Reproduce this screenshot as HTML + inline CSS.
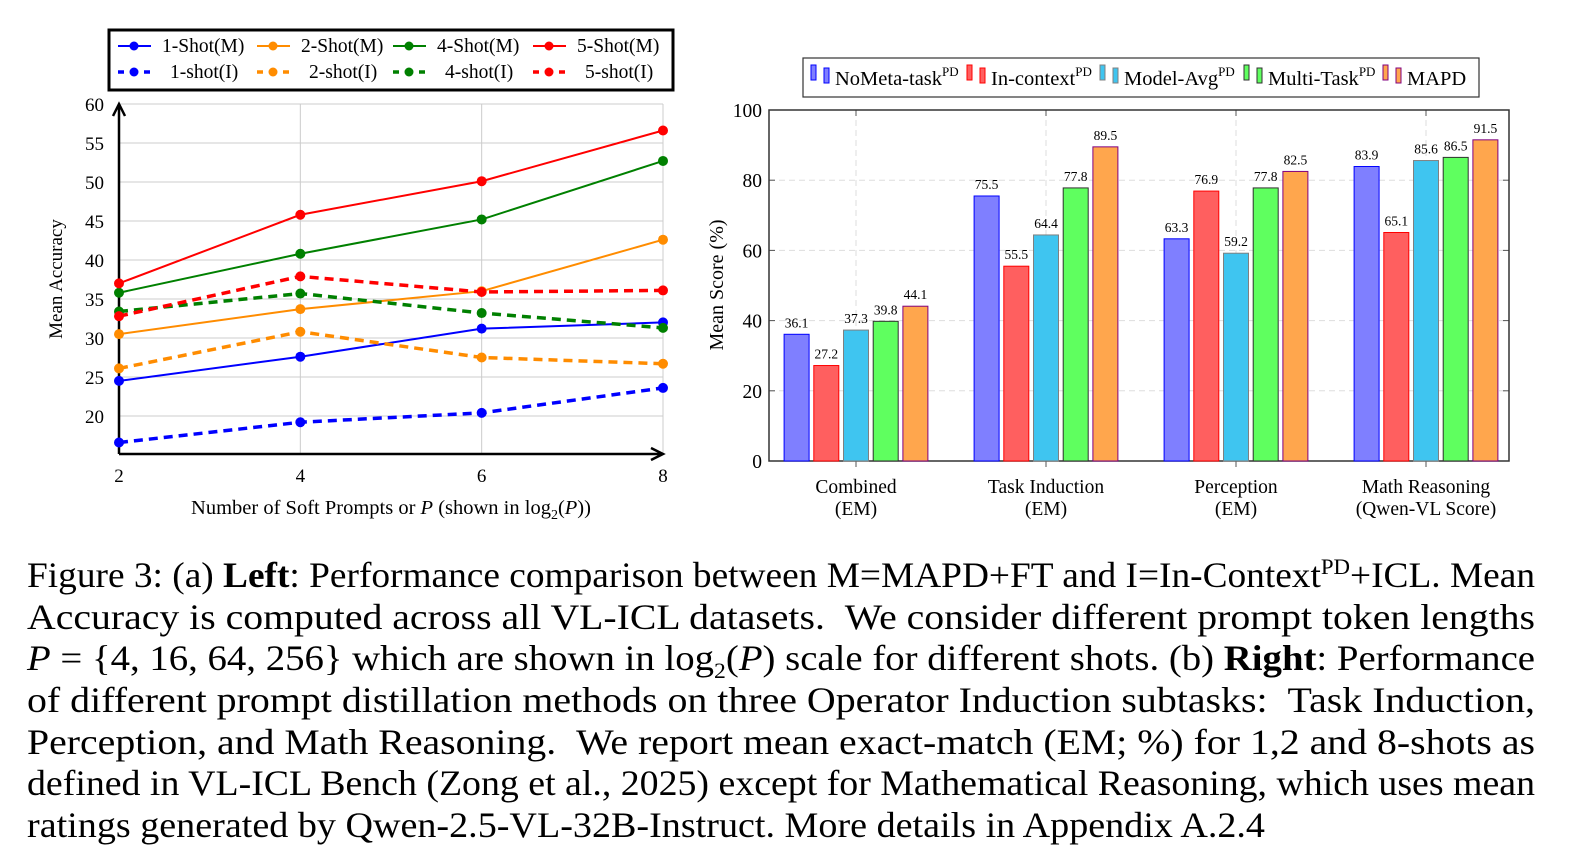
<!DOCTYPE html>
<html><head><meta charset="utf-8">
<style>
body{margin:0;width:1571px;height:861px;background:#fff;overflow:hidden;font-family:"Liberation Serif",serif;}
#cap{position:absolute;left:27px;top:555px;width:1508px;font-size:36px;line-height:41.7px;color:#000;}
#cap .ln{white-space:nowrap;display:block;height:41.7px;}
#cap .ln span.in{display:inline-block;transform-origin:0 0;}
sup{font-size:22px;line-height:0;}
sub{font-size:22px;line-height:0;}
</style></head><body>
<svg id="svg" width="1571" height="540" style="position:absolute;left:0;top:0" font-family="Liberation Serif, serif"></svg>
<div id="cap">
<div class="ln"><span class="in">Figure 3: (a) <b>Left</b>: Performance comparison between M=MAPD+FT and I=In-Context<sup>PD</sup>+ICL. Mean</span></div>
<div class="ln"><span class="in">Accuracy is computed across all VL-ICL datasets. &nbsp;We consider different prompt token lengths</span></div>
<div class="ln"><span class="in"><i>P</i> = {4, 16, 64, 256} which are shown in log<sub>2</sub>(<i>P</i>) scale for different shots. (b) <b>Right</b>: Performance</span></div>
<div class="ln"><span class="in">of different prompt distillation methods on three Operator Induction subtasks: &nbsp;Task Induction,</span></div>
<div class="ln"><span class="in">Perception, and Math Reasoning. &nbsp;We report mean exact-match (EM; %) for 1,2 and 8-shots as</span></div>
<div class="ln"><span class="in">defined in VL-ICL Bench (Zong et al., 2025) except for Mathematical Reasoning, which uses mean</span></div>
<div class="ln"><span class="in" data-w="1238">ratings generated by Qwen-2.5-VL-32B-Instruct. More details in Appendix A.2.4</span></div>
</div>
<script>
const xTicks=[2,4,6,8];
const yTicks=[20,25,30,35,40,45,50,55,60];
const lineNames=["1-Shot(M)","2-Shot(M)","4-Shot(M)","5-Shot(M)","1-shot(I)","2-shot(I)","4-shot(I)","5-shot(I)"];
const s1M=[24.5,27.6,31.2,32.0];
const s2M=[30.5,33.7,36.0,42.6];
const s4M=[35.8,40.8,45.2,52.7];
const s5M=[37.0,45.8,50.1,56.6];
const s1I=[16.6,19.2,20.4,23.6];
const s2I=[26.1,30.8,27.5,26.7];
const s4I=[33.4,35.7,33.2,31.3];
const s5I=[32.8,37.9,35.9,36.1];
const barCats=[["Combined","(EM)"],["Task Induction","(EM)"],["Perception","(EM)"],["Math Reasoning","(Qwen-VL Score)"]];
const barSeries=["NoMeta-task","In-context","Model-Avg","Multi-Task","MAPD"];
const bNoMeta=[36.1,75.5,63.3,83.9];
const bInctx=[27.2,55.5,76.9,65.1];
const bAvg=[37.3,64.4,59.2,85.6];
const bMulti=[39.8,77.8,77.8,86.5];
const bMapd=[44.1,89.5,82.5,91.5];
const bTicks=[0,20,40,60,80,100];

// caption line fitting
document.querySelectorAll('#cap .in').forEach(s=>{const w=s.getBoundingClientRect().width;const t=+(s.dataset.w||1508);s.style.transform='scaleX('+(t/w)+')';});

const svg=document.getElementById('svg');const NS='http://www.w3.org/2000/svg';
function el(t,a,p){const e=document.createElementNS(NS,t);for(const k in a)e.setAttribute(k,a[k]);(p||svg).appendChild(e);return e;}
function tx(s,a,p){const e=el('text',a,p);e.textContent=s;return e;}
// left chart
const lx=x=>119+(x-2)*(663-119)/6, ly=y=>416-(y-20)*7.8;
const L=el('g',{});
xTicks.forEach(t=>{el('line',{x1:lx(t),x2:lx(t),y1:104,y2:454,stroke:'#ccc','stroke-width':1},L);
 const e=tx(t,{x:lx(t),y:482,'font-size':19,'text-anchor':'middle'},L);});
yTicks.forEach(t=>{el('line',{x1:119,x2:663,y1:ly(t),y2:ly(t),stroke:'#ccc','stroke-width':1},L);
 const e=tx(t,{x:104,y:ly(t)+7,'font-size':19,'text-anchor':'end'},L);});
el('path',{d:'M119,454 V106 M113,116 L119,104 L125,116',stroke:'#000','stroke-width':2.5,fill:'none'},L);
el('path',{d:'M119,454 H661 M651,448 L663,454 L651,460',stroke:'#000','stroke-width':2.5,fill:'none'},L);
let yt=tx('Mean Accuracy',{x:0,y:0,'font-size':19,'text-anchor':'middle',transform:'translate(62,279) rotate(-90)'},L);
let xt=el('text',{x:391,y:514,'font-size':20.5,'text-anchor':'middle'},L);xt.innerHTML='Number of Soft Prompts or <tspan font-style="italic">P</tspan> (shown in log<tspan font-size="14" dy="5">2</tspan><tspan dy="-5">(</tspan><tspan font-style="italic">P</tspan>))';

const allS=[s1M,s2M,s4M,s5M,s1I,s2I,s4I,s5I];const cols=['#0000ff','#ff8c00','#008000','#ff0000'];
allS.forEach((s,i)=>{const c=cols[i%4],dash=i>=4;const g=el('g',{},L);
 el('polyline',{points:s.map((v,j)=>lx(xTicks[j])+','+ly(v)).join(' '),fill:'none',stroke:c,'stroke-width':dash?3.5:2,'stroke-dasharray':dash?'9,6':'none'},g);
 s.forEach((v,j)=>{const p=el('circle',{cx:lx(xTicks[j]),cy:ly(v),r:5,fill:c},g);});});
// legend left
const LG=el('g',{});
el('rect',{x:109,y:30,width:564,height:60,fill:'#fff',stroke:'#000','stroke-width':3},LG);
const lxs=[118,257,393,533];
lineNames.forEach((n,i)=>{const c=cols[i%4],dash=i>=4,x=lxs[i%4],y=i<4?46:72;
 const g=el('g',{},LG);
 el('line',{x1:x,x2:x+33,y1:y,y2:y,stroke:c,'stroke-width':dash?3.5:2,'stroke-dasharray':dash?'6,7':'none'},g);
 el('circle',{cx:x+16,cy:y,r:4.5,fill:c},g);tx(n,{x:dash?x+52:x+44,y:y+6,'font-size':19.5},g);});
// bar chart
const FL=769,FR=1509;
const by=v=>461-v*3.51;const centers=[856,1046,1236,1426];
const bcols=['#7f7fff','#ff5f5f','#3fc5f0','#5fff5f','#ffa64d'];const bstr=['#0000ff','#ff0000','#808080','#303030','#800080'];
const B=el('g',{});
bTicks.forEach(t=>{if(t>0&&t<100)el('line',{x1:FL,x2:FR,y1:by(t),y2:by(t),stroke:'#ddd','stroke-dasharray':'6,4'},B);
 el('line',{x1:FL,x2:FL+6,y1:by(t),y2:by(t),stroke:'#555'},B);el('line',{x1:FR-6,x2:FR,y1:by(t),y2:by(t),stroke:'#555'},B);
 const e=tx(t,{x:762,y:by(t)+7,'font-size':19.5,'text-anchor':'end'},B);});
centers.forEach(c=>{el('line',{x1:c,x2:c,y1:110,y2:461,stroke:'#ddd','stroke-dasharray':'6,4'},B);el('line',{x1:c,x2:c,y1:110,y2:116,stroke:'#555'},B);el('line',{x1:c,x2:c,y1:461,y2:467,stroke:'#555'},B);});
el('rect',{x:FL,y:110,width:FR-FL,height:351,fill:'none',stroke:'#333','stroke-width':1.5},B);
[bNoMeta,bInctx,bAvg,bMulti,bMapd].forEach((s,i)=>{s.forEach((v,j)=>{const x=centers[j]+(i-2)*29.7-12.5;
 const r=el('rect',{x:x,y:by(v),width:25,height:461-by(v),fill:bcols[i],stroke:bstr[i],'stroke-width':1},B);
 const e=tx(v.toFixed(1),{x:x+12.5,y:by(v)-7,'font-size':13.5,'text-anchor':'middle'},B);});});
barCats.forEach((c,j)=>{const e=tx(c[0],{x:centers[j],y:493,'font-size':19.5,'text-anchor':'middle'},B);
 tx(c[1],{x:centers[j],y:515,'font-size':19.5,'text-anchor':'middle'},B);});
let by2=tx('Mean Score (%)',{x:0,y:0,'font-size':20,'text-anchor':'middle',transform:'translate(723,285) rotate(-90)'},B);
const BL=el('g',{});
el('rect',{x:803,y:58,width:676,height:39,fill:'#fff',stroke:'#333','stroke-width':1.2},BL);
const bxs=[811,967,1100,1244,1383];
barSeries.forEach((n,i)=>{const x=bxs[i],g=el('g',{},BL);
 el('rect',{x:x,y:65,width:5,height:15,fill:bcols[i],stroke:bstr[i]},g);el('rect',{x:x+13,y:68,width:5,height:15,fill:bcols[i],stroke:bstr[i]},g);
 const t=el('text',{x:x+24,y:85,'font-size':20.5},g);t.innerHTML=n+(i<4?'<tspan font-size="13" dy="-9">PD</tspan>':'');});
</script>
</body></html>
